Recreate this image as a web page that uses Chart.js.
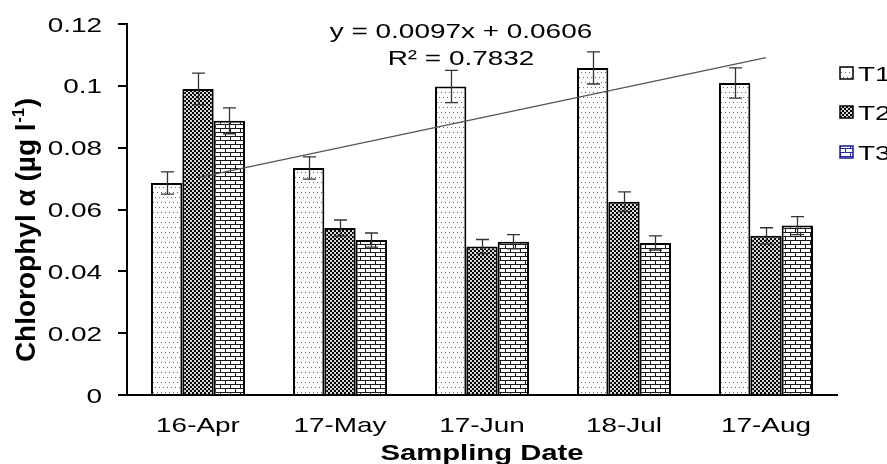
<!DOCTYPE html>
<html>
<head>
<meta charset="utf-8">
<script src="https://cdn.jsdelivr.net/npm/chart.js@4/dist/chart.umd.min.js"></script>
<style>
  body { margin: 0; background: #fff; }
  #wrap { width: 887px; height: 464px; }
</style>
</head>
<body>
<div id="wrap"><canvas id="chl" width="887" height="464"></canvas></div>
<script>
// Data
const categories = ['16-Apr', '17-May', '17-Jun', '18-Jul', '17-Aug'];
const seriesNames = ['T1', 'T2', 'T3'];
const t1Values = [0.0686, 0.0734, 0.0998, 0.1058, 0.1009];
const t2Values = [0.0990, 0.0540, 0.0480, 0.0625, 0.0515];
const t3Values = [0.0887, 0.0501, 0.0496, 0.0492, 0.0548];
const t1Errors = [0.0036, 0.0036, 0.0052, 0.0052, 0.0049];
const t2Errors = [0.0051, 0.0026, 0.0023, 0.0032, 0.0026];
const t3Errors = [0.0042, 0.0023, 0.0023, 0.0023, 0.0029];
// linear trend line as printed on the chart (y = 0.0097x + 0.0606)
const trendValues = [0.0703, 0.0800, 0.0897, 0.0994, 0.1091];
const trendLabel = ['y = 0.0097x + 0.0606', 'R\u00b2 = 0.7832'];
const yMin = 0, yMax = 0.12, yStep = 0.02;

// the source figure is squashed vertically, so horizontal text looks wide
const STRETCH = 1.33;
const FONT = '"Liberation Sans", Arial, sans-serif';

function makePattern(w, h, bg, draw) {
    const c = document.createElement('canvas');
    c.width = w; c.height = h;
    const g = c.getContext('2d');
    g.fillStyle = bg;
    g.fillRect(0, 0, w, h);
    draw(g);
    return g.createPattern(c, 'repeat');
}

const ctx = document.getElementById('chl').getContext('2d');

const dotPattern = makePattern(8, 10, '#fff', g => {
    g.fillStyle = '#666';
    g.fillRect(1, 2, 1, 1);
    g.fillRect(5, 2, 1, 1);
    g.fillRect(3, 7, 1, 1);
    g.fillRect(7, 7, 1, 1);
});
const checkPattern = makePattern(4, 4, '#d8d8d8', g => {
    g.fillStyle = '#000';
    g.fillRect(0, 0, 2, 2);
    g.fillRect(2, 2, 2, 2);
});
function brick(color) {
    return makePattern(10, 8, '#fff', g => {
        g.fillStyle = color;
        g.fillRect(0, 0, 10, 1);
        g.fillRect(0, 4, 10, 1);
        g.fillRect(0, 1, 1, 3);
        g.fillRect(5, 5, 1, 3);
    });
}
const brickPattern = brick('#1a1a1a');
const brickLegend = brick('#2b2ba8');

function wideText(c, text, x, y, align, font) {
    c.save();
    c.translate(x, y);
    c.scale(STRETCH, 1);
    c.font = font;
    c.textAlign = align;
    c.textBaseline = 'alphabetic';
    c.fillText(text, 0, 0);
    c.restore();
}

const errorBars = {
    id: 'errorBars',
    afterDatasetsDraw(chart) {
        const c = chart.ctx, ys = chart.scales.y;
        const errs = [t1Errors, t2Errors, t3Errors];
        c.save();
        c.strokeStyle = '#333';
        c.lineWidth = 1.3;
        errs.forEach((e, di) => {
            const vals = chart.data.datasets[di].data;
            chart.getDatasetMeta(di).data.forEach((bar, i) => {
                const top = ys.getPixelForValue(vals[i] + e[i]);
                const bot = ys.getPixelForValue(vals[i] - e[i]);
                const x = Math.round(bar.x) + 0.5;
                c.beginPath();
                c.moveTo(x, top); c.lineTo(x, bot);
                c.moveTo(x - 6.5, top); c.lineTo(x + 6.5, top);
                c.moveTo(x - 6.5, bot); c.lineTo(x + 6.5, bot);
                c.stroke();
            });
        });
        c.restore();
    }
};

const labelsPlugin = {
    id: 'labels',
    afterDraw(chart) {
        const c = chart.ctx;
        const xs = chart.scales.x, ys = chart.scales.y;
        c.save();
        c.fillStyle = '#000';
        const f = '21px ' + FONT;

        ys.ticks.forEach(t => {
            wideText(c, t.label, 102, ys.getPixelForValue(t.value) + 7.5, 'right', f);
        });
        categories.forEach((cat, i) => {
            wideText(c, cat, xs.getPixelForTick(i), 432, 'center', f);
        });
        wideText(c, 'Sampling Date', 482, 460, 'center', 'bold 22px ' + FONT);

        wideText(c, trendLabel[0], 461, 38, 'center', f);
        wideText(c, trendLabel[1], 461, 65, 'center', f);

        // y axis title, rotated, with superscript -1
        c.save();
        c.translate(35, 231);
        c.rotate(-Math.PI / 2);
        c.textBaseline = 'alphabetic';
        c.textAlign = 'left';
        const main = 'Chlorophyl \u03b1 (\u00b5g l', sup = '-1', tail = ')';
        c.font = 'bold 28px ' + FONT;
        const w1 = c.measureText(main).width, w3 = c.measureText(tail).width;
        c.font = 'bold 16px ' + FONT;
        const w2 = c.measureText(sup).width;
        let x0 = -(w1 + w2 + w3) / 2;
        c.font = 'bold 28px ' + FONT;
        c.fillText(main, x0, 0);
        c.font = 'bold 16px ' + FONT;
        c.fillText(sup, x0 + w1 + 1, -11);
        c.font = 'bold 28px ' + FONT;
        c.fillText(tail, x0 + w1 + w2 + 2, 0);
        c.restore();

        // legend on the right, runs off the edge like the original
        const fills = [dotPattern, checkPattern, brickLegend];
        const rows = [73, 112, 152];
        seriesNames.forEach((name, i) => {
            c.fillStyle = fills[i];
            c.fillRect(840, rows[i] - 6, 13, 12);
            c.strokeStyle = i === 2 ? '#1a1a90' : '#000';
            c.lineWidth = 1.5;
            c.strokeRect(840, rows[i] - 6, 13, 12);
            c.fillStyle = '#000';
            wideText(c, name, 858, rows[i] + 7.5, 'left', f);
        });
        c.restore();
    }
};

const barStyle = { borderColor: '#000', borderWidth: 2, categoryPercentage: 0.662, barPercentage: 1, order: 1 };

new Chart(ctx, {
    type: 'bar',
    data: {
        labels: categories,
        datasets: [
            { label: seriesNames[0], data: t1Values, backgroundColor: dotPattern, ...barStyle },
            { label: seriesNames[1], data: t2Values, backgroundColor: checkPattern, ...barStyle },
            { label: seriesNames[2], data: t3Values, backgroundColor: brickPattern, ...barStyle },
            {
                type: 'line', label: 'Linear', data: trendValues,
                borderColor: '#555', borderWidth: 1.3, pointRadius: 0, fill: false, order: 0
            }
        ]
    },
    options: {
        responsive: false,
        animation: false,
        layout: { padding: { top: 24, right: 50, left: 0, bottom: 0 } },
        plugins: { legend: { display: false }, tooltip: { enabled: false } },
        scales: {
            x: {
                grid: { display: false },
                border: { color: '#000', width: 2 },
                ticks: { display: false },
                afterFit: s => { s.height = 69; }
            },
            y: {
                min: yMin, max: yMax,
                ticks: {
                    display: false, stepSize: yStep,
                    callback: v => String(parseFloat(v.toFixed(2)))
                },
                grid: { drawOnChartArea: false, drawTicks: true, tickLength: 9, color: '#000', lineWidth: 2 },
                border: { color: '#000', width: 2 },
                afterFit: s => { s.width = 127; }
            }
        }
    },
    plugins: [errorBars, labelsPlugin]
});
</script>
</body>
</html>
